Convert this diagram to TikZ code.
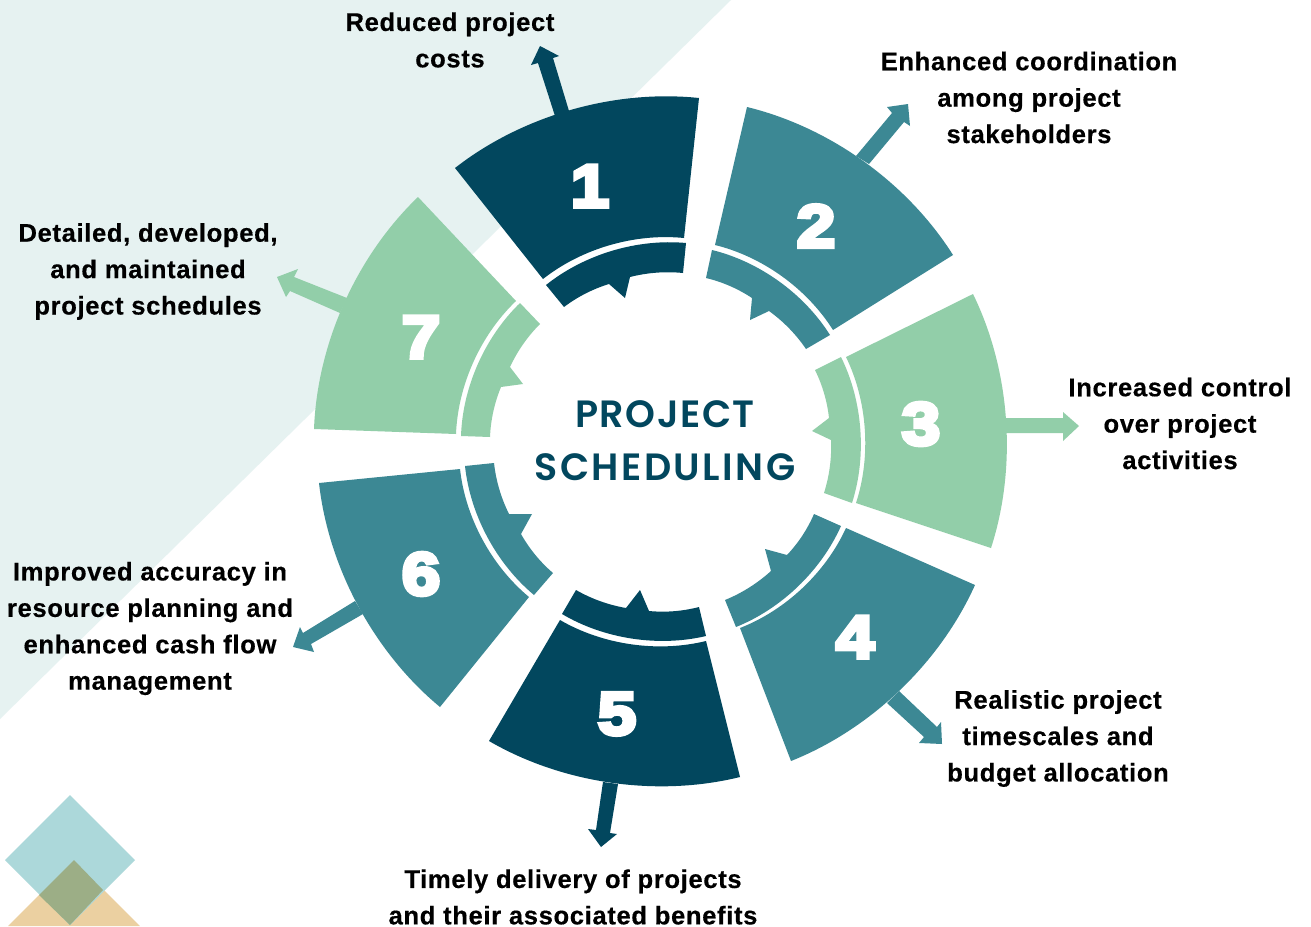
\documentclass[tikz,border=0pt]{standalone}
\usepackage{fontspec}
\setmainfont{Liberation Sans}
\newfontfamily\labfont[LetterSpace=2.5,FakeBold=0.4]{Liberation Sans Bold}
\newfontfamily\titlefont[LetterSpace=6.5]{Poppins SemiBold}
\newfontfamily\titlefontb[LetterSpace=4]{Poppins SemiBold}
\newfontfamily\numfont[FakeStretch=1.15,FakeBold=7]{Liberation Sans Bold}
\definecolor{dark}{HTML}{02475E}
\definecolor{teal}{HTML}{3C8894}
\definecolor{green}{HTML}{92CEA9}
\definecolor{pale}{HTML}{E6F2F1}
\definecolor{lteal}{HTML}{ACD8DA}
\definecolor{orange}{HTML}{EBD0A1}
\definecolor{olive}{HTML}{9CAE86}
\tikzset{
 lab/.style={align=center,font=\labfont\fontsize{25.6}{36.4}\selectfont,text=black,inner sep=0pt},
 num/.style={font=\numfont\fontsize{60}{60}\selectfont,text=white,inner sep=0pt},
 ttl/.style={align=center,font=\titlefont\fontsize{38}{53}\selectfont,text=dark,inner sep=0pt},
 oL/.style={bend left=22,looseness=.86},
 iR/.style={bend right=22,looseness=.86},
 hR/.style={bend right=10,looseness=.86},
}
\begin{document}
\begin{tikzpicture}[x=1pt,y=-1pt]
\useasboundingbox (0,0) rectangle (1311,926);
\fill[white] (0,0) rectangle (1311,926);
\fill[pale] (0,0) -- (731,0) -- (0,719) -- cycle;
% logo
\fill[orange] (74,860) -- (140,926) -- (8,926) -- cycle;
\fill[lteal] (70,795) -- (135,860) -- (70,925) -- (5,860) -- cycle;
\fill[olive] (74,860) -- (103,890) -- (70,925) -- (39,895) -- cycle;
% segment 1
\fill[dark] (555,116) -- (538,63) -- (531,65) -- (540,46) -- (559,56) -- (553,58) -- (569,111) -- cycle;
\fill[dark] (455,168) to[oL] (699,98) -- (684,238) to[iR] (543,279) -- cycle;
\fill[dark] (546,285) to[oL] (686,243) -- (683,273) to[hR] (630,277) -- (625,298) -- (609,284) to[hR] (564,307) -- cycle;
% segment 2
\fill[teal] (856,156) -- (892,113) -- (887,107) -- (908,104) -- (910,126) -- (904,122) -- (869,164) -- cycle;
\fill[teal] (747,107) to[oL] (953,255) -- (833,330) to[iR] (715,245) -- cycle;
\fill[teal] (712,250) to[oL] (830,335) -- (806,349) to[hR] (769,311) -- (750,320) -- (752,298) to[hR] (706,278) -- cycle;
% segment 3
\fill[green] (1005,418) -- (1063,418) -- (1063,412) -- (1079,426) -- (1063,441) -- (1063,433) -- (1005,433) -- cycle;
\fill[green] (973,294) to[oL] (991,548) -- (856,503) to[iR] (846,357) -- cycle;
\fill[green] (841,357) to[oL] (852,503) -- (824,493) to[hR] (831,440) -- (812,431) -- (829,418) to[hR] (815,370) -- cycle;
% segment 4
\fill[teal] (899,691) -- (937,727) -- (941,722) -- (942,744) -- (919,743) -- (924,737) -- (887,703) -- cycle;
\fill[teal] (975,585) to[oL] (791,761) -- (740,628) to[iR] (846,528) -- cycle;
\fill[teal] (841,526) to[oL] (736,627) -- (725,600) to[hR] (771,571) -- (765,549) -- (787,555) to[hR] (814,514) -- cycle;
% segment 5
\fill[dark] (618,784) -- (610,833) -- (617,834) -- (601,847) -- (588,829) -- (596,830) -- (603,782) -- cycle;
\fill[dark] (740,777) to[oL] (489,741) -- (560,620) to[iR] (706,641) -- cycle;
\fill[dark] (706,636) to[oL] (562,614) -- (576,590) to[hR] (626,608) -- (640,590) -- (649,611) to[hR] (699,607) -- cycle;
% segment 6
\fill[teal] (355,601) -- (303,633) -- (300,627) -- (293,647) -- (314,652) -- (311,644) -- (363,614) -- cycle;
\fill[teal] (440,707) to[oL] (319,483) -- (460,469) to[iR] (529,597) -- cycle;
\fill[teal] (534,595) to[oL] (465,466) -- (494,463) to[hR] (509,514) -- (532,514) -- (521,534) to[hR] (553,573) -- cycle;
% segment 7
\fill[green] (347,298) -- (294,277) -- (298,269) -- (277,277) -- (286,297) -- (290,291) -- (340,313) -- cycle;
\fill[green] (314,429) to[oL] (418,197) -- (516,301) to[iR] (456,434) -- cycle;
\fill[green] (461,436) to[oL] (520,303) -- (540,324) to[hR] (510,367) -- (523,384) -- (501,387) to[hR] (490,437) -- cycle;
% numbers
\node[num] (n1) at (590,186) {1};
\node[num] (n2) at (816,226) {2};
\node[num] (n3) at (921,424) {3};
\node[num] (n4) at (855,637) {4};
\node[num] (n5) at (617,714) {5};
\node[num] (n6) at (421,574) {6};
\node[num] (n7) at (421,337) {7};
% title
\node[ttl] (title) at (665,441) {{\titlefontb PROJECT}\\SCHEDULING};
% labels
\node[lab] (l1) at (450,40) {Reduced project\\costs};
\node[lab] (l2) at (1029,97.5) {Enhanced coordination\\among project\\stakeholders};
\node[lab] (l3) at (1180,423.5) {Increased control\\over project\\activities};
\node[lab] (l4) at (1058,738.5) {Realistic project\\timescales and\\budget allocation};
\node[lab] (l5) at (573,897) {Timely delivery of projects\\and their associated benefits};
\node[lab] (l6) at (150,628.5) {Improved accuracy in\\resource planning and\\enhanced cash flow\\management};
\node[lab] (l7) at (148,271.5) {Detailed, developed,\\and maintained\\project schedules};
\end{tikzpicture}
\end{document}
